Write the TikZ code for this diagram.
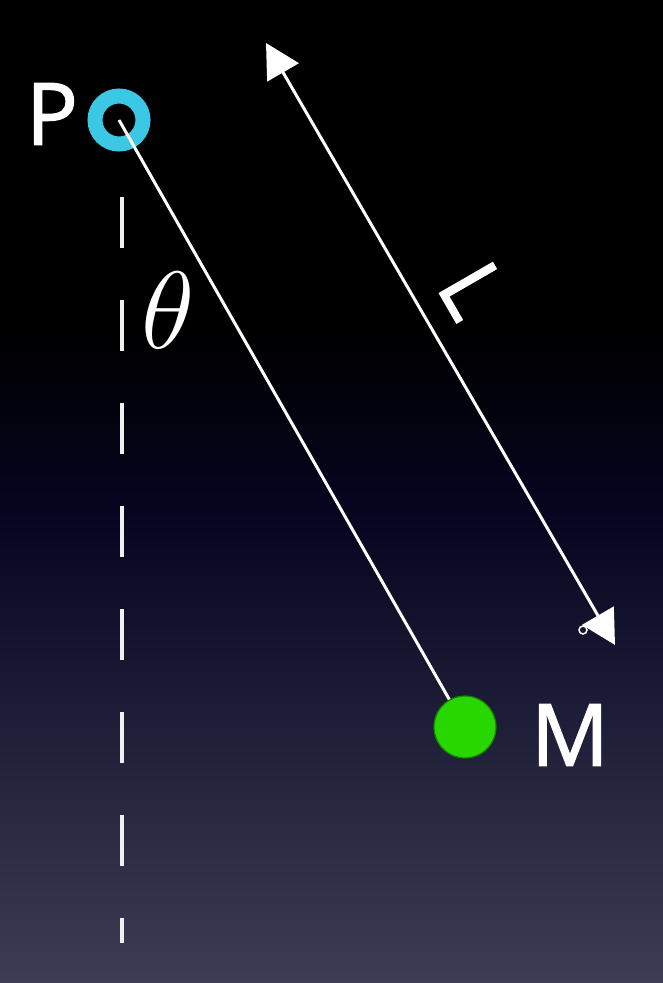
\RequirePackage{fix-cm}
\documentclass[tikz,border=0pt]{standalone}
\usepackage{fontspec}
\setsansfont{Open Sans}[FakeBold=1.6]
\usetikzlibrary{arrows.meta}
\definecolor{bgnavy}{RGB}{5,5,32}
\definecolor{bgbot}{RGB}{60,60,84}
\definecolor{ringcyan}{RGB}{58,200,228}
\definecolor{ballgreen}{RGB}{40,214,0}
\definecolor{balledge}{RGB}{20,130,0}
\definecolor{handlefill}{RGB}{20,20,45}
\begin{document}
\begin{tikzpicture}[x=1pt,y=-1pt,
  lbl/.style={font=\sffamily\fontsize{86}{86}\selectfont, text=white, inner sep=0pt},
  ring/.style={circle, draw=ringcyan, line width=15pt, minimum size=48pt, inner sep=0pt},
  ball/.style={circle, fill=ballgreen, draw=balledge, line width=1.2pt, minimum size=62pt, inner sep=0pt},
  rod/.style={white, line width=3pt},
  dimline/.style={white, line width=3pt, {Triangle[length=34pt,width=36pt]}-{Triangle[length=34pt,width=36pt]}},
  vline/.style={white!88!gray, line width=4pt, dash pattern=on 51pt off 52pt},
  handle/.style={circle, draw=white, line width=1.5pt, fill=handlefill, minimum size=8pt, inner sep=0pt}]
\useasboundingbox (0,0) rectangle (663,983);
% background
\fill[black] (0,0) rectangle (663,331);
\shade[top color=black, bottom color=bgnavy] (0,330) rectangle (663,511);
\shade[top color=bgnavy, bottom color=bgbot] (0,510) rectangle (663,983);
% vertical dashed line
\coordinate (d1) at (122,197);
\coordinate (d2) at (122,943);
\draw[vline] (d1) -- (d2);
% pivot ring
\node[ring] (P) at (119,120) {};
\coordinate (Mc) at (465,727);
\draw[rod] (P.center) -- (Mc);
\node[ball] (M) at (Mc) {};
% labels
\node[lbl] (Plabel) at (52,114) {P};
\node[lbl] (Mlabel) at (570,735) {M};
\node[lbl, rotate=-60] (Llabel) at (473,290) {L};
\node[text=white, inner sep=0pt, font=\fontsize{110}{110}\selectfont] (th) at (168,310) {$\theta$};
% dimension arrow
\coordinate (Ltop) at (266,43);
\coordinate (Lbot) at (615,645);
\draw[dimline] (Ltop) -- (Lbot);
\node[handle] (h) at (583,630) {};
\end{tikzpicture}
\end{document}
